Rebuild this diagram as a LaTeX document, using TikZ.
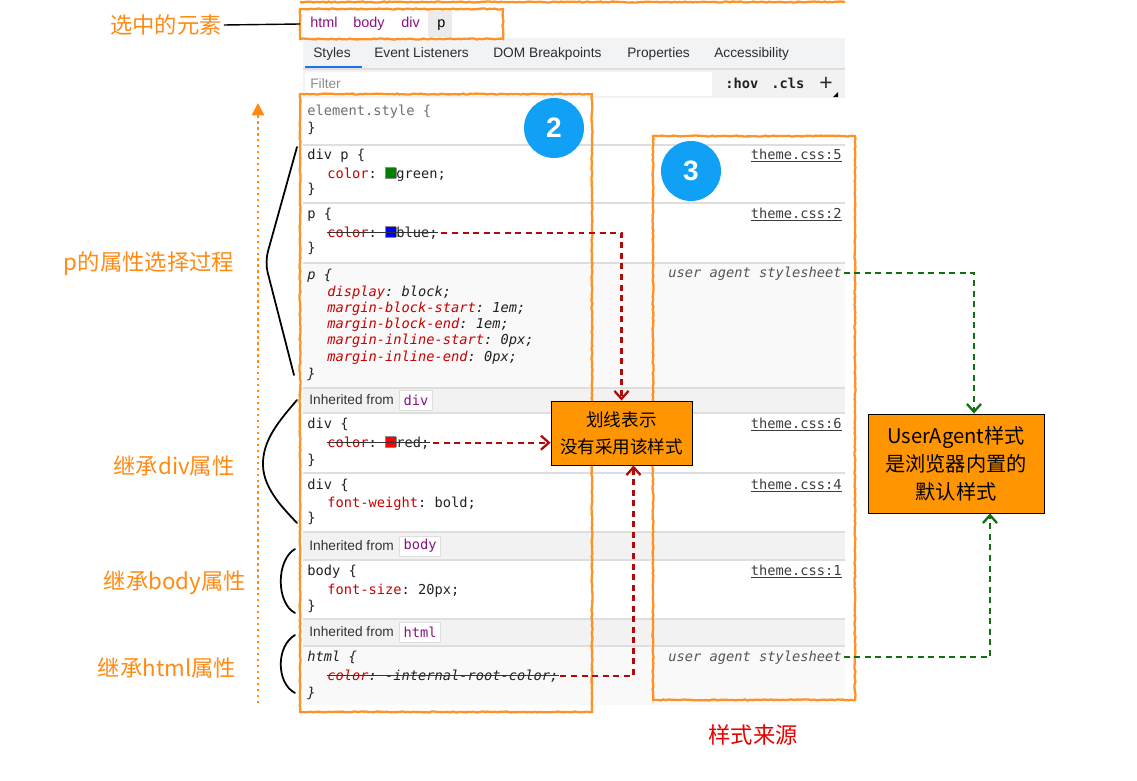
\documentclass[tikz,border=0pt]{standalone}
\usepackage{fontspec}
\setmainfont{Liberation Sans}
\setmonofont{DejaVu Sans Mono}
\newfontfamily\cjk{Noto Sans CJK SC}
\usetikzlibrary{arrows.meta,decorations.pathmorphing}

\definecolor{tagpurple}{RGB}{136,18,128}
\definecolor{cssprop}{RGB}{200,0,0}
\definecolor{codetext}{RGB}{33,33,33}
\definecolor{codegrey}{RGB}{110,110,110}
\definecolor{uagrey}{RGB}{85,85,85}
\definecolor{linkgrey}{RGB}{60,60,60}
\definecolor{tabtext}{RGB}{45,45,45}
\definecolor{tabblue}{RGB}{26,115,232}
\definecolor{tabbg}{RGB}{241,243,244}
\definecolor{inhbg}{RGB}{242,242,242}
\definecolor{uabg}{RGB}{249,249,249}
\definecolor{sepgrey}{RGB}{222,222,222}
\definecolor{hlorange}{RGB}{255,146,38}
\definecolor{lblorange}{RGB}{255,138,20}
\definecolor{notefill}{RGB}{255,149,0}
\definecolor{badgeblue}{RGB}{16,160,245}
\definecolor{darkred}{RGB}{178,10,10}
\definecolor{dkgreen}{RGB}{20,110,20}
\definecolor{srcred}{RGB}{232,0,0}
\definecolor{cssgreen}{RGB}{0,128,0}
\definecolor{cssblue}{RGB}{0,0,255}
\definecolor{cssred}{RGB}{255,0,0}

\newcommand\uifont{\fontsize{7.8}{9}\selectfont}
\newcommand\codefont{\fontsize{7.8}{9}\selectfont\ttfamily}
\newcommand\pname[1]{\textcolor{cssprop}{#1}}
\newcommand\swatch[1]{{\setlength\fboxsep{0pt}\setlength\fboxrule{0.4pt}\fcolorbox{black!45}{#1}{\rule{0pt}{5.6pt}\rule{5.6pt}{0pt}}}}

\begin{document}
\begin{tikzpicture}[x=0.02cm, y=-0.02cm,
    ui/.style={anchor=base west, inner sep=0pt, font=\uifont, text=tabtext},
    code/.style={anchor=base west, inner sep=0pt, font=\codefont, text=codetext},
    src/.style={anchor=base east, inner sep=0pt, font=\codefont, text=linkgrey},
    sep/.style={draw=sepgrey, line width=0.6pt},
    strike/.style={draw=black!80, line width=0.55pt},
    tagbox/.style={anchor=west, draw=sepgrey, fill=white, font=\codefont, text=tagpurple,
      inner xsep=2.4pt, inner ysep=0pt, minimum height=0.4cm},
    hlbox/.style={draw=hlorange, line width=1.3pt, inner sep=0pt, outer sep=0pt,
      decorate, decoration={random steps, segment length=1.5pt, amplitude=0.3pt}},
    badge/.style={circle, fill=badgeblue, text=white, minimum size=1.2cm, inner sep=0pt,
      font=\fontsize{16}{16}\selectfont\bfseries},
    note/.style={draw=black, line width=0.5pt, fill=notefill, align=center, inner sep=0pt},
    lbl/.style={text=lblorange, font=\cjk\fontsize{12.7}{14}\selectfont, inner sep=1pt},
    brace/.style={draw=black, line width=1pt, line cap=round},
    strikearrow/.style={draw=darkred, line width=1.3pt, dash pattern=on 3.4pt off 2.6pt,
      -{Straight Barb[length=4.5pt,width=8pt]}},
    uaarrow/.style={draw=dkgreen, line width=1.3pt, dash pattern=on 3.4pt off 2.6pt,
      -{Straight Barb[length=4.5pt,width=8pt]}},
    flowarrow/.style={draw=lblorange, line width=1.2pt, dash pattern=on 1.4pt off 2pt,
      -{Triangle[length=7pt,width=7pt]}}]

  \useasboundingbox (0,0) rectangle (1137,781);

  % breadcrumb, tabs and filter
  \fill[black!8] (428,11) rectangle (452,37);
  \node[ui, font=\fontsize{8.2}{9}\selectfont, text=tagpurple] (bchtml) at (310,28) {html};
  \node[ui, font=\fontsize{8.2}{9}\selectfont, text=tagpurple] (bcbody) at (353,28) {body};
  \node[ui, font=\fontsize{8.2}{9}\selectfont, text=tagpurple] (bcdiv) at (401,28) {div};
  \node[ui, font=\fontsize{8.2}{9}\selectfont, text=black] (bcp) at (437,28) {p};

  \fill[tabbg] (303,38) rectangle (845,68);
  \foreach \x/\tabname [count=\i] in {313/Styles,374/Event Listeners,493/DOM Breakpoints,627/Properties,714/Accessibility}
    \node[ui] (tab\i) at (\x,57) {\tabname};
  \draw[tabblue, line width=1.2pt] (305,67.5) -- (362,67.5);

  \fill[inhbg] (303,69) rectangle (845,98);
  \fill[white] (305,72) rectangle (712,96);
  \draw[sep] (303,69) -- (845,69);
  \node[ui, text=black!45] (filter) at (310,88) {Filter};
  \node[code, font=\codefont\bfseries] (hov) at (725,88) {:hov};
  \node[code, font=\codefont\bfseries] (cls) at (771,88) {.cls};
  \node[ui, font=\fontsize{13}{13}\selectfont] (plus) at (819,91) {+};
  \fill (838,92) -- (838,97) -- (833,97) -- cycle;

  % rule sections
  \fill[uabg] (303,263) rectangle (845,388);
  \fill[uabg] (303,646) rectangle (845,705);
  \foreach \a/\b in {388/413,532/560,619/646}
    \fill[inhbg] (303,\a) rectangle (845,\b);
  \foreach \y in {145,203,263,388,413,473,532,560,619,646}
    \draw[sep] (303,\y) -- (845,\y);

  \node[code, text=codegrey] (es) at (307,115) {element.style \{};
  \node[code] (esend) at (307,132) {\}};

  \node[code] (r1) at (307,159) {div p \{};
  \node[code] (cg) at (327,178) {\pname{color}: \swatch{cssgreen}green;};
  \node[code] (r1end) at (307,193) {\}};
  \node[src] (s1) at (842,159) {\underline{theme.css:5}};

  \node[code] (r2) at (307,218) {p \{};
  \node[code] (cb) at (327,237) {\pname{color}: \swatch{cssblue}blue;};
  \node[code] (r2end) at (307,252) {\}};
  \node[src] (s2) at (842,218) {\underline{theme.css:2}};

  \node[code, font=\codefont\itshape] (r3) at (307,279) {p \{};
  \foreach \prp/\val [count=\i] in {display/block,margin-block-start/1em,margin-block-end/1em,margin-inline-start/0px,margin-inline-end/0px}
    \node[code, font=\codefont\itshape] (ua\i) at (327,279.7+16.3*\i) {\pname{\prp}: \val;};
  \node[code, font=\codefont\itshape] (r3end) at (307,378) {\}};
  \node[src, font=\codefont\itshape, text=uagrey] (uasrc1) at (842,277) {user agent stylesheet};

  \foreach \y/\tg in {400/div,546/body,632/html} {
    \node[ui, text=black!80] (inh\tg) at (309,\y+4) {Inherited from};
    \node[tagbox] (tag\tg) at (399,\y) {\tg};
  }

  \node[code] (r4) at (307,428) {div \{};
  \node[code] (cr) at (327,447) {\pname{color}: \swatch{cssred}red;};
  \node[code] (r4end) at (307,464) {\}};
  \node[src] (s4) at (842,428) {\underline{theme.css:6}};

  \node[code] (r5) at (307,489) {div \{};
  \node[code] (fw) at (327,507) {\pname{font-weight}: bold;};
  \node[code] (r5end) at (307,522) {\}};
  \node[src] (s5) at (842,489) {\underline{theme.css:4}};

  \node[code] (r6) at (307,575) {body \{};
  \node[code] (fs) at (327,594) {\pname{font-size}: 20px;};
  \node[code] (r6end) at (307,610) {\}};
  \node[src] (s6) at (842,575) {\underline{theme.css:1}};

  \node[code, font=\codefont\itshape] (r7) at (307,661) {html \{};
  \node[code, font=\codefont\itshape] (ch) at (327,680) {\pname{color}: -internal-root-color;};
  \node[code, font=\codefont\itshape] (r7end) at (307,697) {\}};
  \node[src, font=\codefont\itshape, text=uagrey] (uasrc2) at (842,661) {user agent stylesheet};

  \foreach \n in {cb,cr,ch}
    \draw[strike] ([yshift=2.4pt]\n.base west) -- ([yshift=2.4pt]\n.base east);

  % highlights
  \draw[hlbox] (300,2) -- (845,2);
  \node[hlbox, minimum width=4.06cm, minimum height=0.6cm] (crumbbox) at (401.5,24) {};
  \node[hlbox, minimum width=5.84cm, minimum height=12.36cm] (cascbox) at (446,403) {};
  \node[hlbox, minimum width=4.04cm, minimum height=11.28cm] (srcbox) at (754,418) {};

  \node[badge] (num2) at (554,128) {2};
  \node[badge] (num3) at (691,171) {3};

  % arrows and notes
  \node[note, font=\cjk\fontsize{10}{15.5}\selectfont, minimum width=2.82cm, minimum height=1.28cm]
    (strikenote) at (621.5,433) {划线表示\\没有采用该样式};
  \node[note, font=\cjk\fontsize{11.5}{16}\selectfont, minimum width=3.52cm, minimum height=1.98cm]
    (uanote) at (956,463.5) {UserAgent样式\\是浏览器内置的\\默认样式};

  \draw[strikearrow] ([xshift=2pt]cb.east) -| (strikenote.north);
  \draw[strikearrow] ([xshift=2pt]cr.east) -- (cr.east -| strikenote.west);
  \draw[strikearrow] ([xshift=1pt]ch.east) -| ([xshift=0.24cm]strikenote.south);
  \draw[uaarrow] ([xshift=1pt]uasrc1.east) -| ([xshift=0.36cm]uanote.north);
  \draw[uaarrow] ([xshift=1pt]uasrc2.east) -| ([xshift=0.68cm]uanote.south);

  % left side labels
  \coordinate (flowbot) at (258,703);
  \coordinate (flowtop) at (258,103);
  \draw[flowarrow] (flowbot) -- (flowtop);

  \node[lbl] (sellbl) at (166,25) {选中的元素};
  \draw[black, line width=0.8pt] (sellbl.east) -- (crumbbox.west);
  \node[lbl] (proclbl) at (149,264) {p的属性选择过程};
  \node[lbl] (divlbl) at (174,466) {继承div属性};
  \node[lbl] (bodylbl) at (175,583) {继承body属性};
  \node[lbl] (htmllbl) at (167,668) {继承html属性};
  \node[lbl, text=srcred] (srclbl) at (753,735) {样式来源};

  \draw[brace, rounded corners=6pt] (297,147) -- (265,262) -- (294,375);
  \draw[brace] (297,400) .. controls (280,420) and (262,440) .. (263,466)
    .. controls (264,490) and (285,510) .. (297,523);
  \draw[brace] (295,549) .. controls (276,560) and (276,603) .. (295,613);
  \draw[brace] (295,635) .. controls (276,646) and (276,683) .. (295,693);

\end{tikzpicture}
\end{document}
